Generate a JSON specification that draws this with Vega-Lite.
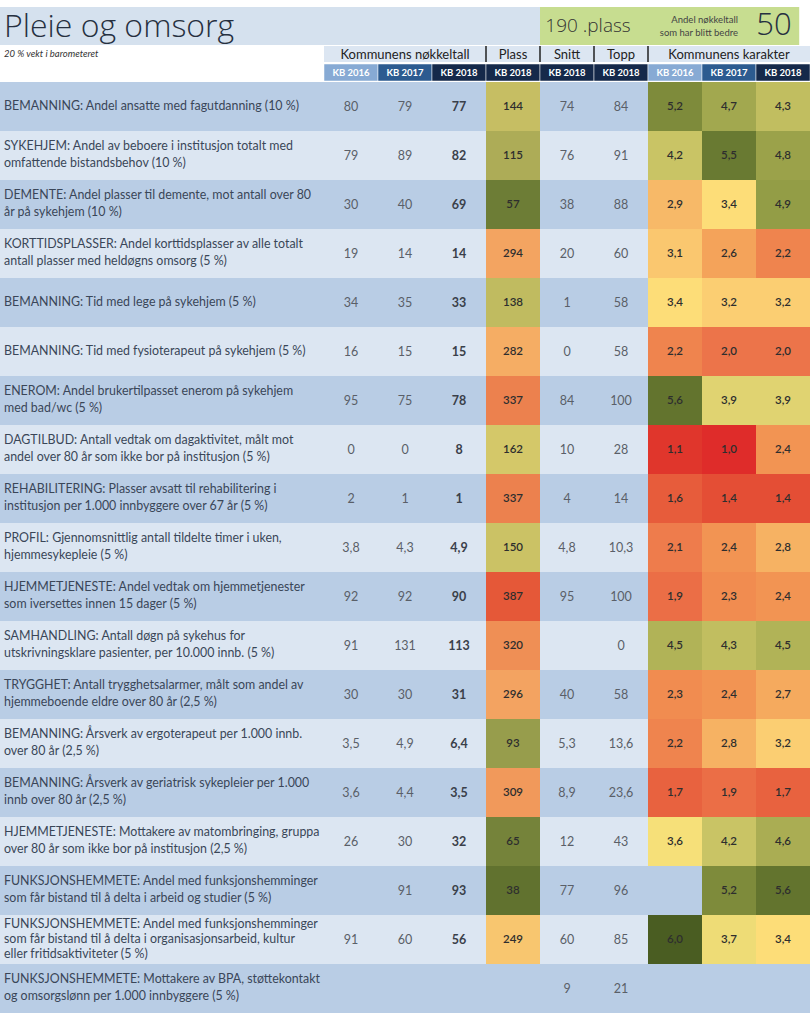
{
  "$schema": "https://vega.github.io/schema/vega-lite/v6.json",
  "padding": {"top": 7, "left": 0, "right": 0, "bottom": 0},
  "background": "white",
  "config": {
    "view": {"stroke": null},
    "concat": {"spacing": 0},
    "font": "Lato",
    "locale": {"number": {"decimal": ",", "thousands": " ", "grouping": [3], "currency": ["", " kr"]}}
  },
  "datasets": {
    "rows": [
      {"id": 1, "label": "BEMANNING: Andel ansatte med fagutdanning (10 %)", "k16": 80, "k17": 79, "k18": 77, "plass": 144, "snitt": 74, "topp": 84, "g16": 5.2, "g17": 4.7, "g18": 4.3},
      {"id": 2, "label": "SYKEHJEM: Andel av beboere i institusjon totalt med\nomfattende bistandsbehov (10 %)", "k16": 79, "k17": 89, "k18": 82, "plass": 115, "snitt": 76, "topp": 91, "g16": 4.2, "g17": 5.5, "g18": 4.8},
      {"id": 3, "label": "DEMENTE: Andel plasser til demente, mot antall over 80\når på sykehjem (10 %)", "k16": 30, "k17": 40, "k18": 69, "plass": 57, "snitt": 38, "topp": 88, "g16": 2.9, "g17": 3.4, "g18": 4.9},
      {"id": 4, "label": "KORTTIDSPLASSER: Andel korttidsplasser av alle totalt\nantall plasser med heldøgns omsorg (5 %)", "k16": 19, "k17": 14, "k18": 14, "plass": 294, "snitt": 20, "topp": 60, "g16": 3.1, "g17": 2.6, "g18": 2.2},
      {"id": 5, "label": "BEMANNING: Tid med lege på sykehjem (5 %)", "k16": 34, "k17": 35, "k18": 33, "plass": 138, "snitt": 1, "topp": 58, "g16": 3.4, "g17": 3.2, "g18": 3.2},
      {"id": 6, "label": "BEMANNING: Tid med fysioterapeut på sykehjem (5 %)", "k16": 16, "k17": 15, "k18": 15, "plass": 282, "snitt": 0, "topp": 58, "g16": 2.2, "g17": 2.0, "g18": 2.0},
      {"id": 7, "label": "ENEROM: Andel brukertilpasset enerom på sykehjem\nmed bad/wc (5 %)", "k16": 95, "k17": 75, "k18": 78, "plass": 337, "snitt": 84, "topp": 100, "g16": 5.6, "g17": 3.9, "g18": 3.9},
      {"id": 8, "label": "DAGTILBUD: Antall vedtak om dagaktivitet, målt mot\nandel over 80 år som ikke bor på institusjon (5 %)", "k16": 0, "k17": 0, "k18": 8, "plass": 162, "snitt": 10, "topp": 28, "g16": 1.1, "g17": 1.0, "g18": 2.4},
      {"id": 9, "label": "REHABILITERING: Plasser avsatt til rehabilitering i\ninstitusjon per 1.000 innbyggere over 67 år (5 %)", "k16": 2, "k17": 1, "k18": 1, "plass": 337, "snitt": 4, "topp": 14, "g16": 1.6, "g17": 1.4, "g18": 1.4},
      {"id": 10, "label": "PROFIL: Gjennomsnittlig antall tildelte timer i uken,\nhjemmesykepleie (5 %)", "k16": 3.8, "k17": 4.3, "k18": 4.9, "plass": 150, "snitt": 4.8, "topp": 10.3, "g16": 2.1, "g17": 2.4, "g18": 2.8},
      {"id": 11, "label": "HJEMMETJENESTE: Andel vedtak om hjemmetjenester\nsom iversettes innen 15 dager (5 %)", "k16": 92, "k17": 92, "k18": 90, "plass": 387, "snitt": 95, "topp": 100, "g16": 1.9, "g17": 2.3, "g18": 2.4},
      {"id": 12, "label": "SAMHANDLING: Antall døgn på sykehus for\nutskrivningsklare pasienter, per 10.000 innb. (5 %)", "k16": 91, "k17": 131, "k18": 113, "plass": 320, "snitt": null, "topp": 0, "g16": 4.5, "g17": 4.3, "g18": 4.5},
      {"id": 13, "label": "TRYGGHET: Antall trygghetsalarmer, målt som andel av\nhjemmeboende eldre over 80 år (2,5 %)", "k16": 30, "k17": 30, "k18": 31, "plass": 296, "snitt": 40, "topp": 58, "g16": 2.3, "g17": 2.4, "g18": 2.7},
      {"id": 14, "label": "BEMANNING: Årsverk av ergoterapeut per 1.000 innb.\nover 80 år (2,5 %)", "k16": 3.5, "k17": 4.9, "k18": 6.4, "plass": 93, "snitt": 5.3, "topp": 13.6, "g16": 2.2, "g17": 2.8, "g18": 3.2},
      {"id": 15, "label": "BEMANNING: Årsverk av geriatrisk sykepleier per 1.000\ninnb over 80 år (2,5 %)", "k16": 3.6, "k17": 4.4, "k18": 3.5, "plass": 309, "snitt": 8.9, "topp": 23.6, "g16": 1.7, "g17": 1.9, "g18": 1.7},
      {"id": 16, "label": "HJEMMETJENESTE: Mottakere av matombringing, gruppa\nover 80 år som ikke bor på institusjon (2,5 %)", "k16": 26, "k17": 30, "k18": 32, "plass": 65, "snitt": 12, "topp": 43, "g16": 3.6, "g17": 4.2, "g18": 4.6},
      {"id": 17, "label": "FUNKSJONSHEMMETE: Andel med funksjonshemminger\nsom får bistand til å delta i arbeid og studier (5 %)", "k16": null, "k17": 91, "k18": 93, "plass": 38, "snitt": 77, "topp": 96, "g16": null, "g17": 5.2, "g18": 5.6},
      {"id": 18, "label": "FUNKSJONSHEMMETE: Andel med funksjonshemminger\nsom får bistand til å delta i organisasjonsarbeid, kultur\neller fritidsaktiviteter (5 %)", "k16": 91, "k17": 60, "k18": 56, "plass": 249, "snitt": 60, "topp": 85, "g16": 6.0, "g17": 3.7, "g18": 3.4},
      {"id": 19, "label": "FUNKSJONSHEMMETE: Mottakere av BPA, støttekontakt\nog omsorgslønn per 1.000 innbyggere (5 %)", "k16": null, "k17": null, "k18": null, "plass": null, "snitt": 9, "topp": 21, "g16": null, "g17": null, "g18": null}
    ],
    "cols": [
      {"c": "k16", "kb": "KB 2016"}, {"c": "k17", "kb": "KB 2017"}, {"c": "k18", "kb": "KB 2018"},
      {"c": "plass", "kb": "KB 2018"}, {"c": "snitt", "kb": "KB 2018"}, {"c": "topp", "kb": "KB 2018"},
      {"c": "g16", "kb": "KB 2016"}, {"c": "g17", "kb": "KB 2017"}, {"c": "g18", "kb": "KB 2018"}
    ],
    "groups": [
      {"c": "k17", "t": "Kommunens nøkkeltall"}, {"c": "plass", "t": "Plass"}, {"c": "snitt", "t": "Snitt"},
      {"c": "topp", "t": "Topp"}, {"c": "g17", "t": "Kommunens karakter"}
    ],
    "seps": [{"c": "plass"}, {"c": "snitt"}, {"c": "topp"}, {"c": "g16"}]
  },
  "vconcat": [
    {
      "width": 810, "height": 38,
      "layer": [
        {
          "data": {"values": [{"z": "tittel"}]},
          "mark": {"type": "rect", "fill": "#d5e1ee"},
          "encoding": {
            "x": {"datum": "t1", "bandPosition": 0, "type": "nominal", "axis": null, "scale": {"type": "band", "domain": ["t1","t2","t3","t4","t5","t6","k16","k17","k18","plass","snitt","topp","g16","g17","g18"], "paddingInner": 0, "paddingOuter": 0}},
            "x2": {"datum": "snitt", "bandPosition": 0}
          }
        },
        {
          "data": {"values": [{"z": "score"}]},
          "mark": {"type": "rect", "fill": "#c7dd90"},
          "encoding": {
            "x": {"datum": "snitt", "bandPosition": 0, "type": "nominal"},
            "x2": {"datum": "g18", "bandPosition": 0.8}
          }
        },
        {
          "data": {"values": [{"t": "Pleie og omsorg"}]},
          "mark": {"type": "text", "align": "left", "baseline": "middle", "fontSize": 32, "fontWeight": 300, "font": "Open Sans", "color": "#263040", "dx": 4, "dy": 1},
          "encoding": {"x": {"datum": "t1", "bandPosition": 0, "type": "nominal"}, "text": {"field": "t"}}
        },
        {
          "data": {"values": [{"t": "190 .plass"}]},
          "mark": {"type": "text", "align": "center", "baseline": "middle", "fontSize": 19, "fontWeight": 300, "font": "Open Sans", "color": "#333333", "dx": -6},
          "encoding": {"x": {"datum": "topp", "bandPosition": 0, "type": "nominal"}, "text": {"field": "t"}}
        },
        {
          "data": {"values": [{"t": "Andel nøkkeltall\nsom har blitt bedre"}]},
          "mark": {"type": "text", "align": "right", "baseline": "middle", "fontSize": 9.5, "color": "#444444", "lineBreak": "\n", "lineHeight": 13, "dx": -18, "dy": -6},
          "encoding": {"x": {"datum": "g17", "bandPosition": 1, "type": "nominal"}, "text": {"field": "t"}}
        },
        {
          "data": {"values": [{"t": "50"}]},
          "mark": {"type": "text", "align": "center", "baseline": "middle", "fontSize": 31, "fontWeight": 300, "font": "Open Sans", "color": "#263040", "dx": -9},
          "encoding": {"x": {"datum": "g18", "bandPosition": 0.5, "type": "nominal"}, "text": {"field": "t"}}
        }
      ]
    },
    {
      "width": 810, "height": 16,
      "layer": [
        {
          "data": {"name": "cols"},
          "mark": {"type": "rect", "fill": "#dce6f2"},
          "encoding": {"x": {"field": "c", "type": "nominal", "axis": null, "scale": {"type": "band", "domain": ["t1","t2","t3","t4","t5","t6","k16","k17","k18","plass","snitt","topp","g16","g17","g18"], "paddingInner": 0, "paddingOuter": 0}}}
        },
        {
          "data": {"name": "groups"},
          "mark": {"type": "text", "baseline": "middle", "fontSize": 13, "color": "#222222", "dy": 1},
          "encoding": {"x": {"field": "c", "type": "nominal"}, "text": {"field": "t"}}
        },
        {
          "data": {"name": "seps"},
          "mark": {"type": "rule", "stroke": "#222222", "strokeWidth": 1.5},
          "encoding": {"x": {"field": "c", "type": "nominal", "bandPosition": 0}}
        },
        {
          "data": {"values": [{"t": "20 % vekt i barometeret"}]},
          "mark": {"type": "text", "align": "left", "baseline": "middle", "fontSize": 9.5, "fontStyle": "italic", "color": "#333333", "dx": 4},
          "encoding": {"x": {"datum": "t1", "bandPosition": 0, "type": "nominal"}, "text": {"field": "t"}}
        }
      ]
    },
    {
      "width": 810, "height": 17,
      "data": {"name": "cols"},
      "layer": [
        {
          "mark": {"type": "rect", "stroke": "white", "strokeWidth": 0.5},
          "encoding": {
            "x": {"field": "c", "type": "nominal", "axis": null, "scale": {"type": "band", "domain": ["t1","t2","t3","t4","t5","t6","k16","k17","k18","plass","snitt","topp","g16","g17","g18"], "paddingInner": 0, "paddingOuter": 0}},
            "color": {"field": "kb", "type": "nominal", "legend": null, "scale": {"domain": ["KB 2016", "KB 2017", "KB 2018"], "range": ["#87aad4", "#2c5b90", "#15294a"]}}
          }
        },
        {
          "mark": {"type": "text", "baseline": "middle", "fontSize": 9.5, "fontWeight": "bold", "color": "white"},
          "encoding": {"x": {"field": "c", "type": "nominal"}, "text": {"field": "kb"}}
        }
      ]
    },
    {
      "width": 810, "height": 931,
      "data": {"name": "rows"},
      "encoding": {
        "y": {"field": "id", "type": "ordinal", "axis": null, "scale": {"paddingInner": 0, "paddingOuter": 0}}
      },
      "layer": [
        {
          "mark": {"type": "rect"},
          "encoding": {
            "fill": {"condition": {"test": "datum.id % 2 == 1", "value": "#b9cde5"}, "value": "#dce6f2"}
          }
        },
        {
          "transform": [{"fold": ["plass"], "as": ["col", "val"]}, {"filter": "datum.val != null"}],
          "mark": {"type": "rect"},
          "encoding": {
            "x": {"field": "col", "type": "nominal", "axis": null, "scale": {"type": "band", "domain": ["t1","t2","t3","t4","t5","t6","k16","k17","k18","plass","snitt","topp","g16","g17","g18"], "paddingInner": 0, "paddingOuter": 0}},
            "color": {"field": "val", "type": "quantitative", "legend": null, "scale": {"type": "linear", "domain": [1, 60, 100, 150, 214, 250, 300, 350, 428], "range": ["#4a5d22", "#6f7f37", "#a0a351", "#cbc265", "#fde47c", "#f8c56f", "#f2a060", "#ea7549", "#df2c2a"]}}
          }
        },
        {
          "transform": [{"fold": ["g16", "g17", "g18"], "as": ["col", "val"]}, {"filter": "datum.val != null"}],
          "mark": {"type": "rect"},
          "encoding": {
            "x": {"field": "col", "type": "nominal"},
            "fill": {"field": "val", "type": "quantitative", "legend": null, "scale": {"type": "linear", "domain": [1, 2, 3, 3.5, 4, 5, 6], "range": ["#df2c2a", "#ec744a", "#f8c06d", "#fde47c", "#d9cf6e", "#8c9742", "#4a5d22"]}}
          }
        },
        {
          "transform": [{"filter": "length(split(datum.label, '\\n')) == 1"}],
          "mark": {"type": "text", "align": "left", "baseline": "middle", "fontSize": 12.4, "color": "#3a4658", "dx": 4, "dy": -1},
          "encoding": {"x": {"datum": "t1", "bandPosition": 0, "type": "nominal"}, "text": {"field": "label"}}
        },
        {
          "transform": [{"filter": "length(split(datum.label, '\\n')) == 2"}],
          "mark": {"type": "text", "align": "left", "baseline": "middle", "fontSize": 12.4, "color": "#3a4658", "lineBreak": "\n", "lineHeight": 17, "dx": 4, "dy": -9.5},
          "encoding": {"x": {"datum": "t1", "bandPosition": 0, "type": "nominal"}, "text": {"field": "label"}}
        },
        {
          "transform": [{"filter": "length(split(datum.label, '\\n')) == 3"}],
          "mark": {"type": "text", "align": "left", "baseline": "middle", "fontSize": 12.4, "color": "#3a4658", "lineBreak": "\n", "lineHeight": 15, "dx": 4, "dy": -16},
          "encoding": {"x": {"datum": "t1", "bandPosition": 0, "type": "nominal"}, "text": {"field": "label"}}
        },
        {
          "transform": [{"fold": ["k16", "k17", "snitt", "topp"], "as": ["col", "val"]}, {"filter": "datum.val != null"}],
          "mark": {"type": "text", "baseline": "middle", "fontSize": 12.5, "color": "#5a5f68"},
          "encoding": {"x": {"field": "col", "type": "nominal"}, "text": {"field": "val", "type": "quantitative", "format": "~f"}}
        },
        {
          "transform": [{"fold": ["k18"], "as": ["col", "val"]}, {"filter": "datum.val != null"}],
          "mark": {"type": "text", "baseline": "middle", "fontSize": 12.5, "fontWeight": "bold", "color": "#3a404a"},
          "encoding": {"x": {"field": "col", "type": "nominal"}, "text": {"field": "val", "type": "quantitative", "format": "~f"}}
        },
        {
          "transform": [{"fold": ["plass"], "as": ["col", "val"]}, {"filter": "datum.val != null"}],
          "mark": {"type": "text", "baseline": "middle", "fontSize": 11.5, "fontWeight": 600, "color": "#2e2e2e"},
          "encoding": {"x": {"field": "col", "type": "nominal"}, "text": {"field": "val", "type": "quantitative", "format": "d"}}
        },
        {
          "transform": [{"fold": ["g16", "g17", "g18"], "as": ["col", "val"]}, {"filter": "datum.val != null"}],
          "mark": {"type": "text", "baseline": "middle", "fontSize": 11.5, "fontWeight": 600, "color": "#2e2e2e"},
          "encoding": {"x": {"field": "col", "type": "nominal"}, "text": {"field": "val", "type": "quantitative", "format": ".1f"}}
        }
      ],
      "resolve": {"scale": {"color": "independent", "fill": "independent"}}
    }
  ]
}
